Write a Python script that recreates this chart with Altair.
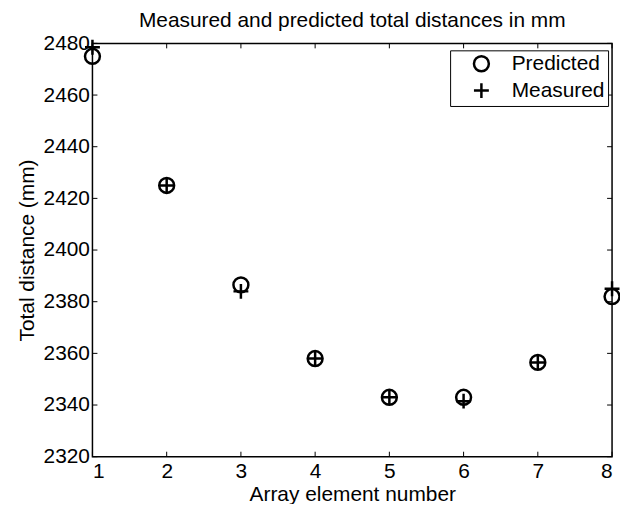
import altair as alt
import pandas as pd

# ---- data ----
elements = [1, 2, 3, 4, 5, 6, 7, 8]
predicted = [2475.0, 2425.0, 2386.5, 2358.0, 2343.0, 2343.0, 2356.5, 2382.0]
measured = [2478.5, 2425.0, 2384.0, 2358.0, 2343.0, 2341.5, 2356.5, 2385.0]
series_names = ["Predicted", "Measured"]
y_ticks = [2320, 2340, 2360, 2380, 2400, 2420, 2440, 2460, 2480]
x_ticks = elements

W, H = 523, 416
FONT = "Liberation Sans"
FS = 21

df = pd.DataFrame({
    "element": elements + elements,
    "distance": predicted + measured,
    "series": [series_names[0]] * len(elements) + [series_names[1]] * len(elements),
})
ytick_df = pd.DataFrame({"distance": y_ticks})
xtick_df = pd.DataFrame({"element": x_ticks})

plus_path = "M-1,0L1,0M0,-1L0,1"
xs = alt.Scale(domain=[1, 8], nice=False, zero=False)
ys = alt.Scale(domain=[2320, 2480], nice=False, zero=False)

axis_common = dict(domain=False, ticks=False, grid=False,
                   labelFont=FONT, labelFontSize=FS, labelColor="black",
                   titleFont=FONT, titleFontSize=FS, titleFontWeight="normal",
                   titleColor="black")

x_enc = alt.X("element:Q", scale=xs,
              axis=alt.Axis(values=x_ticks, format="d", title="Array element number",
                            labelPadding=4, titlePadding=2, **axis_common))
y_enc = alt.Y("distance:Q", scale=ys,
              axis=alt.Axis(values=y_ticks, format="d", title="Total distance (mm)",
                            labelPadding=3, titlePadding=6, **axis_common))

points = alt.Chart(df).mark_point(filled=False, size=225, strokeWidth=2.5,
                                  color="black", opacity=1).encode(
    x=x_enc,
    y=y_enc,
    shape=alt.Shape("series:N",
                    scale=alt.Scale(domain=series_names, range=["circle", plus_path]),
                    legend=alt.Legend(orient="none", legendX=360, legendY=7, title=None,
                                      labelFont=FONT, labelFontSize=FS, labelColor="black",
                                      symbolSize=225, symbolStrokeWidth=2.5,
                                      symbolStrokeColor="black", symbolFillColor="transparent",
                                      strokeColor="black", fillColor="white",
                                      padding=3, rowPadding=2, symbolOffset=18,
                                      labelOffset=20, cornerRadius=0)),
)

tick_len = 5
left_ticks = alt.Chart(ytick_df).mark_rule(color="black", strokeWidth=1).encode(
    y=y_enc, x=alt.value(0), x2=alt.value(tick_len))
right_ticks = alt.Chart(ytick_df).mark_rule(color="black", strokeWidth=1).encode(
    y=y_enc, x=alt.value(W - tick_len), x2=alt.value(W))
bottom_ticks = alt.Chart(xtick_df).mark_rule(color="black", strokeWidth=1).encode(
    x=x_enc, y=alt.value(H - tick_len), y2=alt.value(H))
top_ticks = alt.Chart(xtick_df).mark_rule(color="black", strokeWidth=1).encode(
    x=x_enc, y=alt.value(0), y2=alt.value(tick_len))

chart = alt.layer(points, left_ticks, right_ticks, bottom_ticks, top_ticks).properties(
    width=W, height=H,
    title=alt.Title("Measured and predicted total distances in mm", font=FONT,
                    fontSize=FS, fontWeight="normal", color="black",
                    anchor="middle", offset=2),
    autosize=alt.AutoSizeParams(type="none"),
    padding={"left": 85, "top": 34, "right": 8, "bottom": 46},
).configure(background="white").configure_view(stroke="black", strokeWidth=1.5)

chart.save("out.html", embed_options={"renderer": "svg", "actions": False})
